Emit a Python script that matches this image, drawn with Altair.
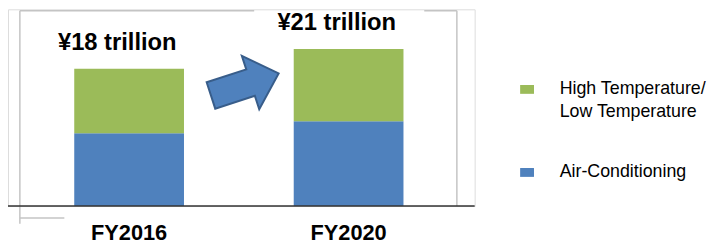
import altair as alt
import pandas as pd

# ---- data ----
categories = ["FY2016", "FY2020"]
air_conditioning = [9.7, 11.3]          # trillion yen (lower, blue)
high_low_temp = [8.6, 9.6]              # trillion yen (upper, green)
total_labels = ["¥18 trillion", "¥21 trillion"]
series_names = ["High Temperature/Low Temperature", "Air-Conditioning"]
series_colors = ["#9bbb59", "#4f81bd"]

rows = []
for c, ac, hl in zip(categories, air_conditioning, high_low_temp):
    rows.append({"year": c, "series": series_names[1], "value": ac, "order": 0})
    rows.append({"year": c, "series": series_names[0], "value": hl, "order": 1})
df = pd.DataFrame(rows)
label_df = pd.DataFrame({
    "year": categories,
    "label": total_labels,
    "total": [a + b for a, b in zip(air_conditioning, high_low_temp)],
})
one = pd.DataFrame({"k": [0]})

FONT = "Liberation Sans"
W, H = 472, 199

x_scale = alt.Scale(domain=categories, range=[11.5, 455.5], paddingInner=0.5, paddingOuter=0.25)
y_scale = alt.Scale(domain=[0, 26.2], nice=False, zero=True)

legend_path = "M-1,-0.64L1,-0.64L1,0.64L-1,0.64Z"
arrow_path = "M-1,-0.39L0.17,-0.39L0.17,-0.79L1,0L0.17,0.79L0.17,0.39L-1,0.39Z"

bars = alt.Chart(df).mark_bar(size=111).encode(
    x=alt.X("year:N", scale=x_scale, sort=categories,
            axis=alt.Axis(title=None, domain=False, ticks=False, grid=False,
                          labelFontSize=22, labelFontWeight="bold", labelFont=FONT,
                          labelColor="black", labelPadding=17, labelAngle=0)),
    y=alt.Y("value:Q", stack="zero", scale=y_scale, axis=None),
    color=alt.Color("series:N",
                    scale=alt.Scale(domain=series_names, range=series_colors),
                    legend=alt.Legend(
                        orient="none", legendX=516, legendY=72, title=None, padding=0,
                        symbolType=legend_path, symbolSize=196, symbolStrokeWidth=0,
                        symbolOpacity=1, labelFontSize=18, labelFont=FONT,
                        labelColor="black", labelOffset=24, labelLimit=300,
                        rowPadding=43,
                        labelExpr="datum.label == 'High Temperature/Low Temperature' ? ['High Temperature/', 'Low Temperature'] : datum.label")),
    order=alt.Order("order:Q", sort="ascending"),
)

totals = alt.Chart(label_df).mark_text(
    font=FONT, fontSize=24, fontWeight="bold", color="black",
    baseline="alphabetic", align="center", dx=-12, dy=-19,
).encode(
    x=alt.X("year:N", scale=x_scale, sort=categories),
    y=alt.Y("total:Q", scale=y_scale),
    text="label:N",
)

baseline = alt.Chart(one).mark_rule(color="#333333", strokeWidth=1.6).encode(
    y=alt.Y("zero:Q", scale=y_scale),
    x=alt.value(0), x2=alt.value(W),
).transform_calculate(zero="0")

frame_color = "#c4c4c4"
fw = 1.5
frame = [
    alt.Chart(one).mark_rule(color=frame_color, strokeWidth=fw).encode(
        x=alt.value(12), x2=alt.value(249), y=alt.value(1.5)),
    alt.Chart(one).mark_rule(color=frame_color, strokeWidth=fw).encode(
        x=alt.value(421), x2=alt.value(454), y=alt.value(1.5)),
    alt.Chart(one).mark_rule(color=frame_color, strokeWidth=fw).encode(
        x=alt.value(12), y=alt.value(1.5), y2=alt.value(217)),
    alt.Chart(one).mark_rule(color=frame_color, strokeWidth=fw).encode(
        x=alt.value(454), y=alt.value(1.5), y2=alt.value(199)),
    alt.Chart(one).mark_rule(color=frame_color, strokeWidth=fw).encode(
        x=alt.value(12), x2=alt.value(57), y=alt.value(211)),
]

arrow = alt.Chart(one).mark_point(
    shape=arrow_path, size=5184, filled=True, fill="#4f81bd", stroke="#385d8a",
    strokeWidth=2, opacity=1, angle=342,
).encode(x=alt.value(239.5), y=alt.value(76))

chart = alt.layer(*frame, bars, baseline, totals, arrow).properties(
    width=W, height=H,
    padding={"left": 0, "top": 0, "right": 235, "bottom": 34},
    autosize=alt.AutoSizeParams(type="none"),
).configure_view(stroke=None).configure(
    style={"guide-label": {"lineHeight": 23}}
)

chart.save("out.html", embed_options={"renderer": "svg", "actions": False})
